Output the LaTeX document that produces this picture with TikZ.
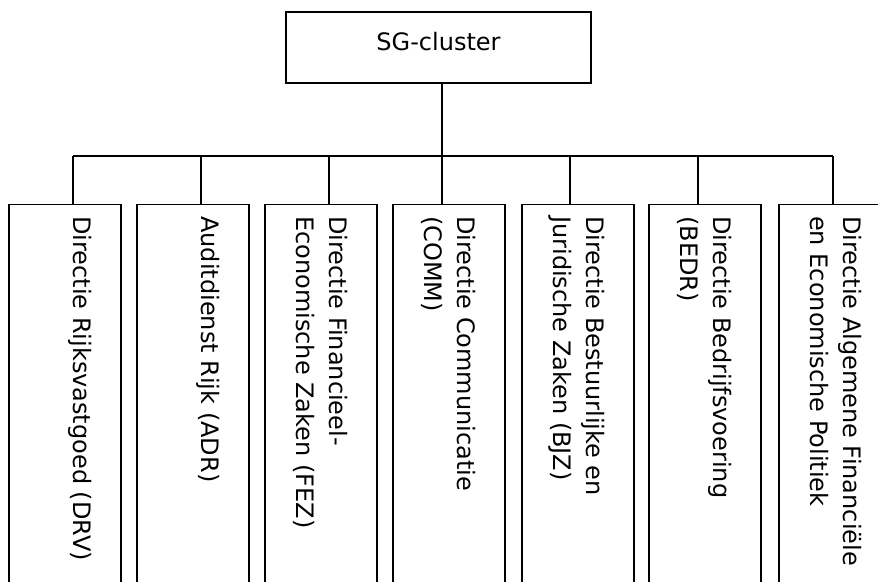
\documentclass[tikz,border=0pt]{standalone}
\usepackage{fontspec}
\setmainfont{DejaVu Sans}
\usetikzlibrary{positioning}

\tikzset{
  unitbox/.style   = {draw, line width=1.2pt, minimum width=112pt, minimum height=400pt,
                      anchor=north, inner sep=0pt},
  unitlabel/.style = {rotate=-90, anchor=north west, align=left, inner sep=0pt,
                      font=\fontsize{24}{32.5}\selectfont},
  topbox/.style    = {draw, line width=1.2pt, minimum width=305pt, minimum height=71pt,
                      text height=10pt, text depth=3.5pt,
                      font=\fontsize{24}{28}\selectfont},
  link/.style      = {line width=1.2pt},
}

\begin{document}
\begin{tikzpicture}[x=1pt, y=-1pt]
        \clip (0,0) rectangle (878,581);

        % top
        \node[topbox] (sg) at (438.5,47.5) {SG-cluster};
        \coordinate (busL) at ( 73,156);
        \coordinate (busR) at (833,156);

        % departments
        \node[unitbox] (drv)  at ( 65,204) {};
        \node[unitbox] (adr)  at (193,204) {};
        \node[unitbox] (fez)  at (321,204) {};
        \node[unitbox] (comm) at (449,204) {};
        \node[unitbox] (bjz)  at (578,204) {};
        \node[unitbox] (bedr) at (705,204) {};
        \node[unitbox] (afep) at (835,204) {};

        \coordinate (drv-in)  at ([xshift=83.5pt,yshift=-12pt]drv.north west);
        \coordinate (adr-in)  at ([xshift=83.5pt,yshift=-12pt]adr.north west);
        \coordinate (fez-in)  at ([xshift=83.5pt,yshift=-12pt]fez.north west);
        \coordinate (comm-in) at ([xshift=83.5pt,yshift=-12pt]comm.north west);
        \coordinate (bjz-in)  at ([xshift=83.5pt,yshift=-12pt]bjz.north west);
        \coordinate (bedr-in) at ([xshift=83.5pt,yshift=-12pt]bedr.north west);
        \coordinate (afep-in) at ([xshift=83.5pt,yshift=-12pt]afep.north west);

        \node[unitlabel] (drv-t)  at (drv-in)  {Directie Rijksvastgoed (DRV)};
        \node[unitlabel] (adr-t)  at (adr-in)  {Auditdienst Rijk (ADR)};
        \node[unitlabel] (fez-t)  at (fez-in)  {Directie Financieel-\\Economische Zaken (FEZ)};
        \node[unitlabel] (comm-t) at (comm-in) {Directie Communicatie\\(COMM)};
        \node[unitlabel] (bjz-t)  at (bjz-in)  {Directie Bestuurlijke en\\Juridische Zaken (BJZ)};
        \node[unitlabel] (bedr-t) at (bedr-in) {Directie Bedrijfsvoering\\(BEDR)};
        \node[unitlabel] (afep-t) at (afep-in) {Directie Algemene Financiële\\en Economische Politiek};

        % connectors
        \draw[link] ([xshift=3.5pt]sg.south) -- ([xshift=3.5pt]sg.south |- busL);
        \draw[link] (busL) -- (busR);
        \draw[link] ([xshift=8pt]drv.north)  -- ([xshift=8pt]drv.north |- busL);
        \draw[link] ([xshift=8pt]adr.north)  -- ([xshift=8pt]adr.north |- busL);
        \draw[link] ([xshift=8pt]fez.north)  -- ([xshift=8pt]fez.north |- busL);
        \draw[link] ([xshift=-7pt]comm.north) -- ([xshift=-7pt]comm.north |- busL);
        \draw[link] ([xshift=-8pt]bjz.north)  -- ([xshift=-8pt]bjz.north |- busL);
        \draw[link] ([xshift=-7pt]bedr.north) -- ([xshift=-7pt]bedr.north |- busL);
        \draw[link] ([xshift=-2pt]afep.north) -- (busR);
      \end{tikzpicture}
\end{document}
